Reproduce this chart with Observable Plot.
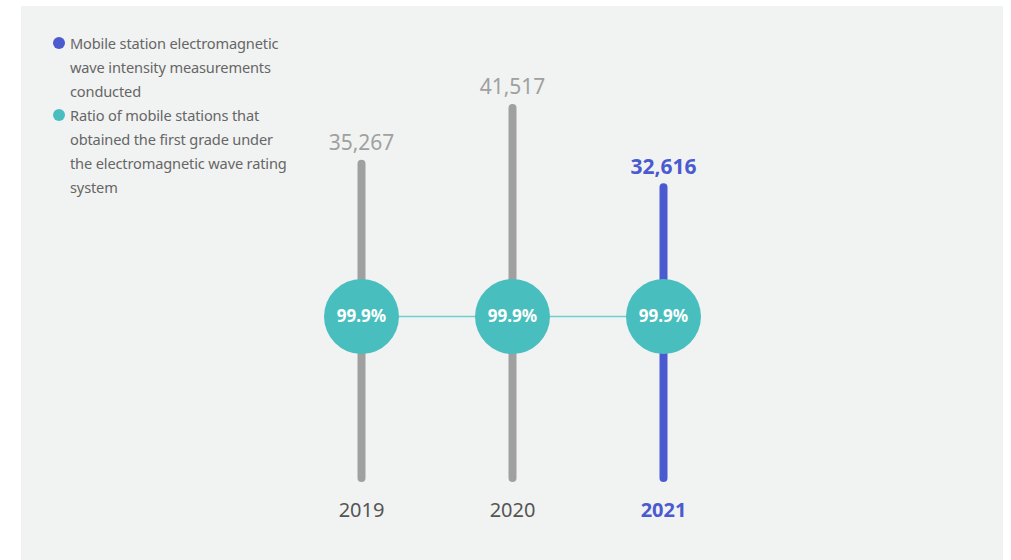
<!DOCTYPE html>
<html>
<head>
<meta charset="utf-8">
<script src="https://cdn.jsdelivr.net/npm/d3@7"></script>
<script src="https://cdn.jsdelivr.net/npm/@observablehq/plot@0.6"></script>
<style>
  html, body { margin: 0; padding: 0; background: #ffffff; }
  #wrap { position: relative; width: 1011px; height: 560px; overflow: hidden; font-family: "Noto Sans", sans-serif; }
  #panel { position: absolute; left: 21px; top: 6px; width: 982px; height: 560px; background: #f1f3f2; }
  #chart { position: absolute; left: 0; top: 0; }
  #legend { position: absolute; left: 52px; top: 31px; font-size: 14.6px; letter-spacing: -0.15px; line-height: 24px; color: #666; }
  .item { position: relative; padding-left: 18px; }
  .dot { position: absolute; left: 1px; top: 6px; width: 12px; height: 12px; border-radius: 50%; }
</style>
</head>
<body>
<div id="wrap">
  <div id="panel"></div>
  <div id="chart"></div>
  <div id="legend">
    <div class="item"><span class="dot" style="background:#4a5bcf"></span>Mobile station electromagnetic<br>wave intensity measurements<br>conducted</div>
    <div class="item"><span class="dot" style="background:#48bfbe"></span>Ratio of mobile stations that<br>obtained the first grade under<br>the electromagnetic wave rating<br>system</div>
  </div>
</div>
<script>
const years = [2019, 2020, 2021];
const measurements = [35267, 41517, 32616];
const ratios = [99.9, 99.9, 99.9];
const highlight = [false, false, true];

const data = years.map((y, i) => ({year: y, value: measurements[i], ratio: ratios[i], hl: highlight[i]}));
const past = data.filter(d => !d.hl);
const current = data.filter(d => d.hl);
const blue = "#4a5bcf", grey = "#a0a0a0", teal = "#48bfbe";
const fmt = d3.format(",");

const chart = Plot.plot({
  width: 1011,
  height: 560,
  marginTop: 72,
  marginBottom: 0,
  marginLeft: 0,
  marginRight: 0,
  style: {background: "transparent", fontFamily: "Noto Sans, sans-serif"},
  x: {type: "point", domain: years, range: [360.7, 663.3], padding: 0, axis: null},
  y: {domain: [0, 45000], range: [478, 77], axis: null},
  marks: [
    Plot.ruleX(data, {x: "year", y1: 0, y2: "value", stroke: d => d.hl ? blue : grey, strokeWidth: 8, strokeLinecap: "round"}),
    Plot.ruleY([{a: years[0], b: years[years.length - 1]}], {x1: "a", x2: "b", y: null, stroke: "#6dcfcf", strokeWidth: 1.5}),
    Plot.dot(data, {x: "year", r: 37.5, fill: teal, stroke: "none"}),
    Plot.text(data, {x: "year", text: d => d.ratio.toFixed(1) + "%", fill: "white", fontSize: 17, fontWeight: "bold"}),
    Plot.text(past, {x: "year", y: "value", text: d => fmt(d.value), dy: -21, fill: grey, fontSize: 21}),
    Plot.text(current, {x: "year", y: "value", text: d => fmt(d.value), dy: -21, fill: blue, fontSize: 21, fontWeight: "bold"}),
    Plot.text(past, {x: "year", y: 0, text: d => String(d.year), dy: 32, fill: "#555", fontSize: 20}),
    Plot.text(current, {x: "year", y: 0, text: d => String(d.year), dy: 32, fill: blue, fontSize: 20, fontWeight: "bold"})
  ]
});
document.getElementById("chart").appendChild(chart);
</script>
</body>
</html>
